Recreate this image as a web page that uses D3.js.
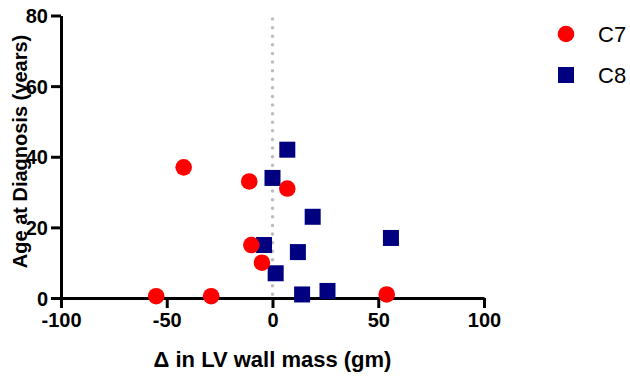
<!DOCTYPE html>
<head>
    <meta charset="utf-8">
    <script src="https://cdnjs.cloudflare.com/ajax/libs/d3/7.8.5/d3.min.js"></script>
    <style type="text/css">
        body {
            margin: 0;
            background: #fff;
        }
        #svg {
            display: block;
            font-family: "Liberation Sans", Arial, sans-serif;
        }
        .axis path, .axis line {
            stroke: #000;
            stroke-width: 3px;
        }
        .axis text {
            font-size: 20px;
            font-weight: bold;
            fill: #000;
        }
        .title {
            font-weight: bold;
        }
    </style>
</head>
<body>
    <div id="chart"></div>
</body>
</html>

<script type="text/javascript">
	var width = 630, height = 378;

	// C7 group (red circles)
	var c7Delta = [-55, -29, -42, -11, 7, -10, -5, 54];
	var c7Age   = [0.5, 0.5, 37, 33, 31, 15, 10, 1];

	// C8 group (navy squares)
	var c8Delta = [7, 0, 19, 12, -4, 1.5, 14, 26, 56];
	var c8Age   = [42, 34, 23, 13, 15, 7, 1, 2, 17];

	var xTicks = [-100, -50, 0, 50, 100];
	var yTicks = [0, 20, 40, 60, 80];

	var x = d3.scaleLinear().domain([-100, 100]).range([61, 484]);
	var y = d3.scaleLinear().domain([0, 80]).range([298, 15.5]);

	// plain hyphen for negatives, like the original
	var fmt = function(d) { return String(d); };

	var svg = d3.select("#chart").append("svg")
		.attr("id", "svg")
		.attr("width", width)
		.attr("height", height);

	// dotted reference line at zero
	svg.append("line")
		.attr("x1", x(0)).attr("x2", x(0))
		.attr("y1", y(79)).attr("y2", y(0) - 3)
		.attr("stroke", "#bdbdbd")
		.attr("stroke-width", 3.5)
		.attr("stroke-linecap", "round")
		.attr("stroke-dasharray", "0,8.6");

	svg.append("g")
		.attr("class", "axis")
		.attr("transform", "translate(0," + y(0) + ")")
		.call(d3.axisBottom(x).tickValues(xTicks).tickFormat(fmt).tickSize(10).tickPadding(5).tickSizeOuter(0));

	var yAxis = svg.append("g")
		.attr("class", "axis")
		.attr("transform", "translate(" + x(-100) + ",0)")
		.call(d3.axisLeft(y).tickValues(yTicks).tickFormat(fmt).tickSize(10).tickPadding(3).tickSizeOuter(0));

	yAxis.selectAll("text").attr("dy", "0.36em");

	svg.append("text")
		.attr("class", "title")
		.attr("x", 272.5)
		.attr("y", 366.5)
		.attr("text-anchor", "middle")
		.style("font-size", "22px")
		.text("Δ in LV wall mass (gm)");

	svg.append("text")
		.attr("class", "title")
		.attr("transform", "translate(26.5," + 151.5 + ") rotate(-90)")
		.attr("text-anchor", "middle")
		.style("font-size", "20px")
		.text("Age at Diagnosis (years)");

	var c7 = c7Delta.map(function(d, i) { return {dx: d, age: c7Age[i]}; });
	var c8 = c8Delta.map(function(d, i) { return {dx: d, age: c8Age[i]}; });

	svg.append("g").selectAll("rect")
		.data(c8)
		.enter().append("rect")
		.attr("x", function(d) { return x(d.dx) - 8; })
		.attr("y", function(d) { return y(d.age) - 8; })
		.attr("width", 16)
		.attr("height", 16)
		.attr("fill", "#000080");

	svg.append("g").selectAll("circle")
		.data(c7)
		.enter().append("circle")
		.attr("cx", function(d) { return x(d.dx); })
		.attr("cy", function(d) { return y(d.age); })
		.attr("r", 8.3)
		.attr("fill", "#ff0000");

	// legend
	var legend = svg.append("g").attr("transform", "translate(566,0)");
	legend.append("circle").attr("cx", 0).attr("cy", 34).attr("r", 8.3).attr("fill", "#ff0000");
	legend.append("rect").attr("x", -8).attr("y", 67).attr("width", 16).attr("height", 16).attr("fill", "#000080");
	legend.append("text").attr("x", 32).attr("y", 34).attr("dy", "0.36em")
		.style("font-size", "22px").text("C7");
	legend.append("text").attr("x", 32).attr("y", 75).attr("dy", "0.36em")
		.style("font-size", "22px").text("C8");
</script>
